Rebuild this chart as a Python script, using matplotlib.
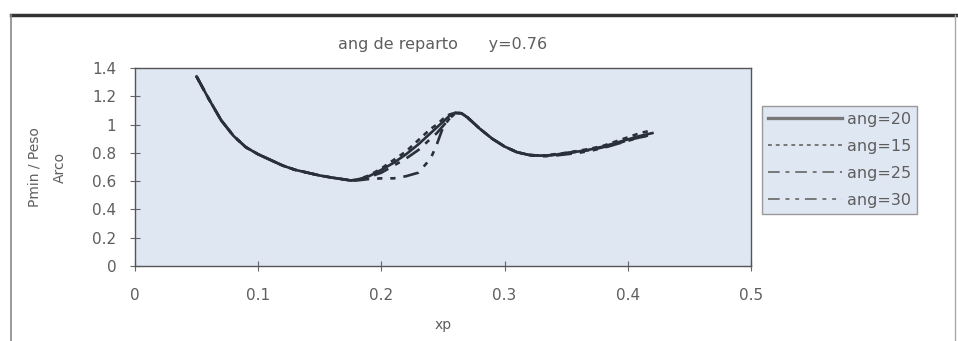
import matplotlib.pyplot as plt
from matplotlib.lines import Line2D

# xp sample positions (shared by all series)
xp = [0.05, 0.06, 0.07, 0.08, 0.09, 0.10, 0.11, 0.12, 0.13, 0.14,
      0.15, 0.16, 0.17, 0.175, 0.18, 0.19, 0.20, 0.21, 0.22, 0.23,
      0.24, 0.245, 0.25, 0.255, 0.26, 0.265, 0.27, 0.28, 0.29, 0.30,
      0.31, 0.32, 0.33, 0.34, 0.35, 0.36, 0.37, 0.38, 0.39, 0.40,
      0.41, 0.42]

# Pmin / Peso Arco for each distribution angle
ang20 = [1.34, 1.18, 1.03, 0.92, 0.84, 0.79, 0.75, 0.71, 0.68, 0.66,
         0.64, 0.625, 0.612, 0.605, 0.61, 0.635, 0.68, 0.73, 0.79, 0.86,
         0.94, 0.98, 1.02, 1.06, 1.085, 1.08, 1.05, 0.97, 0.90, 0.845,
         0.805, 0.785, 0.78, 0.785, 0.80, 0.81, 0.825, 0.845, 0.87, 0.895,
         0.92, 0.94]
ang15 = [1.34, 1.18, 1.03, 0.92, 0.84, 0.79, 0.75, 0.71, 0.68, 0.66,
         0.64, 0.625, 0.612, 0.605, 0.61, 0.64, 0.69, 0.75, 0.81, 0.89,
         0.97, 1.00, 1.04, 1.07, 1.085, 1.08, 1.05, 0.97, 0.90, 0.845,
         0.805, 0.785, 0.78, 0.79, 0.80, 0.815, 0.83, 0.85, 0.88, 0.91,
         0.94, 0.96]
ang25 = [1.34, 1.18, 1.03, 0.92, 0.84, 0.79, 0.75, 0.71, 0.68, 0.66,
         0.64, 0.625, 0.612, 0.605, 0.61, 0.63, 0.66, 0.71, 0.76, 0.82,
         0.90, 0.94, 0.99, 1.04, 1.08, 1.08, 1.05, 0.97, 0.90, 0.845,
         0.805, 0.785, 0.78, 0.785, 0.795, 0.81, 0.82, 0.84, 0.86, 0.89,
         0.91, 0.93]
ang30 = [1.34, 1.18, 1.03, 0.92, 0.84, 0.79, 0.75, 0.71, 0.68, 0.66,
         0.64, 0.625, 0.612, 0.605, 0.605, 0.615, 0.62, 0.62, 0.635, 0.66,
         0.76, 0.86, 0.98, 1.04, 1.08, 1.08, 1.05, 0.97, 0.90, 0.845,
         0.805, 0.785, 0.775, 0.78, 0.79, 0.80, 0.815, 0.835, 0.86, 0.885,
         0.91, 0.93]

labels = ['ang=20', 'ang=15', 'ang=25', 'ang=30']
series = [ang20, ang15, ang25, ang30]
styles = ['-', (0, (2, 2)), (0, (6, 3, 2, 3)), (0, (6, 3, 2, 3, 2, 3))]

txt = '#5e5e5e'
plt.rcParams['font.family'] = ['DejaVu Sans']
plt.rcParams['font.size'] = 11

fig = plt.figure(figsize=(9.58, 3.41), dpi=100)
ax = fig.add_axes([0.1409, 0.2199, 0.6430, 0.5806])
ax.set_facecolor('#dfe7f3')

for ys, lab, ls in zip(series, labels, styles):
    ax.plot(xp, ys, linestyle=ls, color='#2a303a', lw=1.9, label=lab)

ax.set_xlim(0, 0.5)
ax.set_ylim(0, 1.4)
ax.set_xticks([0, 0.1, 0.2, 0.3, 0.4, 0.5])
ax.set_xticklabels(['0', '0.1', '0.2', '0.3', '0.4', '0.5'])
ax.set_yticks([0, 0.2, 0.4, 0.6, 0.8, 1, 1.2, 1.4])
ax.set_yticklabels(['0', '0.2', '0.4', '0.6', '0.8', '1', '1.2', '1.4'])
ax.tick_params(direction='inout', length=7, colors='#666666', labelcolor=txt)
ax.tick_params(axis='x', pad=12)
ax.tick_params(axis='y', pad=10)
for s in ax.spines.values():
    s.set_color('#555555')
    s.set_linewidth(1.0)

ax.set_title('ang de reparto      y=0.76', color=txt, fontsize=11.5, pad=14)
ax.set_xlabel('xp', color=txt, fontsize=10, labelpad=11)
ax.set_ylabel('Pmin / Peso\nArco', color=txt, fontsize=10, labelpad=18, linespacing=2.0)

leg_lines = [Line2D([0], [0], color='#777777', lw=2.4 if i == 0 else 1.4, linestyle=ls)
             for i, ls in enumerate(styles)]
leg = ax.legend(leg_lines, labels, loc='upper left', bbox_to_anchor=(1.018, 0.81),
                frameon=True, fancybox=False, handlelength=4.6, handletextpad=0.3,
                labelspacing=0.75, borderpad=0.4, borderaxespad=0, fontsize=11.5)
leg.get_frame().set_facecolor('#dfe7f3')
leg.get_frame().set_edgecolor('#999999')
leg.get_frame().set_alpha(1)
for t in leg.get_texts():
    t.set_color(txt)

# frame around the whole figure
fig.add_artist(Line2D([0.011, 0.998], [0.955, 0.955], color='#333333', lw=2.5,
                      transform=fig.transFigure))
fig.add_artist(Line2D([0.0115, 0.0115], [0.0, 0.955], color='#888888', lw=1.2,
                      transform=fig.transFigure))
fig.add_artist(Line2D([0.9965, 0.9965], [0.0, 0.955], color='#aaaaaa', lw=1.0,
                      transform=fig.transFigure))

fig.savefig('out.png', dpi=100)
